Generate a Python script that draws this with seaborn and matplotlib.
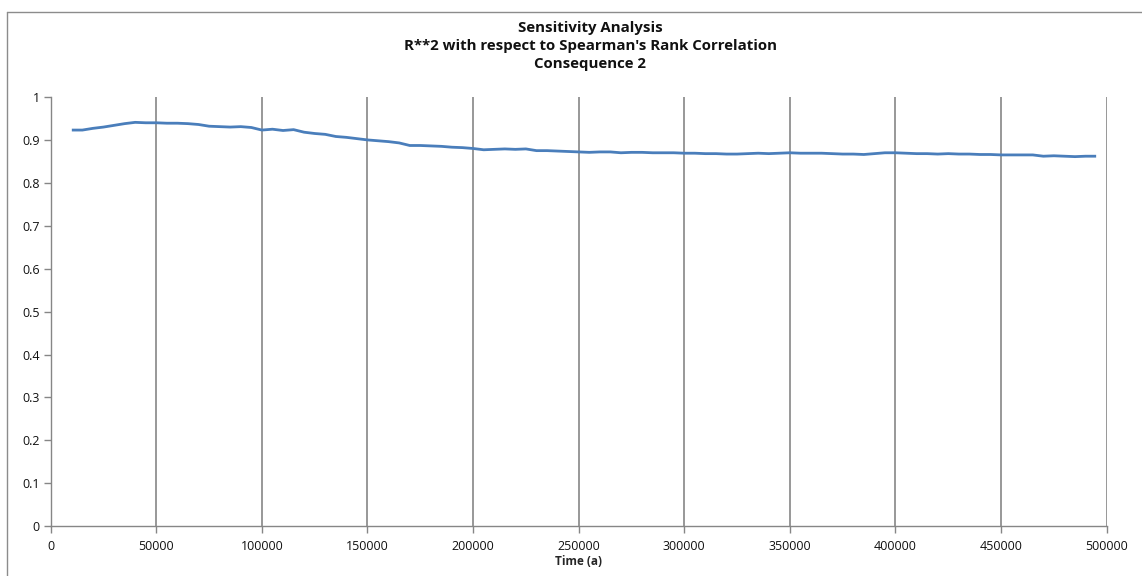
import numpy as np
import pandas as pd
import matplotlib
matplotlib.use("Agg")
import matplotlib.pyplot as plt
from matplotlib.lines import Line2D
from matplotlib.ticker import FuncFormatter
import seaborn as sns

# Time steps of the sensitivity run (years)
time_a = np.arange(10000, 500000, 5000)

# R**2 of the Spearman rank-correlation regression, Consequence 2
r_squared = [
    0.924, 0.924, 0.928, 0.931, 0.935, 0.939, 0.942, 0.941, 0.941, 0.940,
    0.940, 0.939, 0.937, 0.933, 0.932, 0.931, 0.932, 0.930, 0.924, 0.926,
    0.923, 0.925, 0.919, 0.916, 0.914, 0.909, 0.907, 0.904, 0.901, 0.899,
    0.897, 0.894, 0.888, 0.888, 0.887, 0.886, 0.884, 0.883, 0.881, 0.878,
    0.879, 0.880, 0.879, 0.880, 0.876, 0.876, 0.875, 0.874, 0.873, 0.872,
    0.873, 0.873, 0.871, 0.872, 0.872, 0.871, 0.871, 0.871, 0.870, 0.870,
    0.869, 0.869, 0.868, 0.868, 0.869, 0.870, 0.869, 0.870, 0.871, 0.870,
    0.870, 0.870, 0.869, 0.868, 0.868, 0.867, 0.869, 0.871, 0.871, 0.870,
    0.869, 0.869, 0.868, 0.869, 0.868, 0.868, 0.867, 0.867, 0.866, 0.866,
    0.866, 0.866, 0.863, 0.864, 0.863, 0.862, 0.863, 0.863,
]

x_ticks = [0, 50000, 100000, 150000, 200000, 250000, 300000, 350000, 400000, 450000, 500000]
y_ticks = [0, 0.1, 0.2, 0.3, 0.4, 0.5, 0.6, 0.7, 0.8, 0.9, 1.0]

title_lines = [
    "Sensitivity Analysis",
    "R**2 with respect to Spearman's Rank Correlation",
    "Consequence 2",
]
x_label = "Time (a)"

df = pd.DataFrame({"time": time_a, "r2": r_squared})

sns.set_style("white")
plt.rcParams["font.family"] = ["Open Sans", "DejaVu Sans"]

W, H = 1142, 576
fig = plt.figure(figsize=(W / 100, H / 100), dpi=100)
ax = fig.add_axes([50.7 / W, 1 - 526 / H, (1106.7 - 50.7) / W, (526 - 97.5) / H])

axis_grey = "#868686"
line_blue = "#4A7EBB"

sns.lineplot(data=df, x="time", y="r2", ax=ax, color=line_blue, linewidth=2.0,
             solid_capstyle="butt", zorder=3)

ax.set_xlim(0, 500000)
ax.set_ylim(0, 1)
ax.set_xticks(x_ticks)
ax.set_yticks(y_ticks)
ax.xaxis.set_major_formatter(FuncFormatter(lambda v, p: f"{int(v)}"))
ax.yaxis.set_major_formatter(FuncFormatter(lambda v, p: f"{v:g}"))

# Vertical gridlines only
ax.grid(False)
for xv in x_ticks[1:]:
    ax.axvline(xv, color=axis_grey, linewidth=1.2, zorder=1)

for side in ["top", "right"]:
    ax.spines[side].set_visible(False)
for side in ["left", "bottom"]:
    ax.spines[side].set_color(axis_grey)
    ax.spines[side].set_linewidth(1.0)

ax.tick_params(axis="both", which="major", direction="out", length=5, width=1.0,
               color=axis_grey, labelsize=9, labelcolor="#111111", pad=3,
               bottom=True, left=True)
ax.tick_params(axis="x", pad=5)

ax.set_xlabel(x_label, fontsize=8.5, fontweight="bold", labelpad=1.5)
ax.set_ylabel("")

# Three-line bold title
for i, line in enumerate(title_lines):
    fig.text(590 / W, 1 - (28 + 18 * i) / H, line, ha="center", va="center",
             fontsize=10.8, fontweight="bold", color="#111111")

# Chart-area border
border = "#8c8c8c"
fig.add_artist(Line2D([6.5 / W, 1.0], [1 - 11.5 / H, 1 - 11.5 / H],
                      transform=fig.transFigure, color=border, linewidth=1.0))
fig.add_artist(Line2D([6.5 / W, 6.5 / W], [0.0, 1 - 11.5 / H],
                      transform=fig.transFigure, color=border, linewidth=1.0))

fig.savefig("out.png", dpi=100, facecolor="white")
